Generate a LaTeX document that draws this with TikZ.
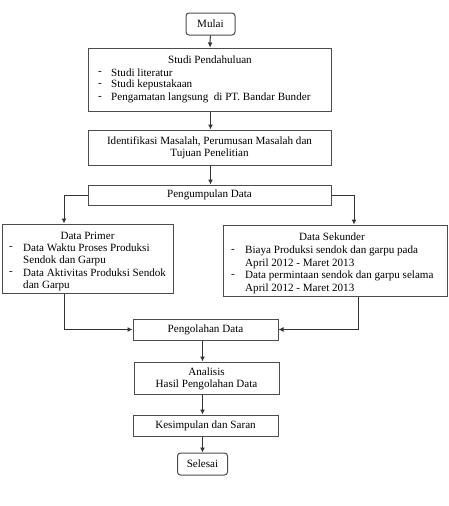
\documentclass[tikz,border=0pt]{standalone}
\usepackage{fontspec}
\setmainfont{Liberation Serif}
\usetikzlibrary{arrows.meta}

\begin{document}
\begin{tikzpicture}[x=1pt, y=-1pt, font=\fontsize{11.1}{13}\selectfont,
  box/.style={draw=black!70, line width=1pt, fill=white, inner sep=0pt},
  term/.style={box, rounded corners=3pt},
  txt/.style={anchor=west, inner sep=0pt},
  ctxt/.style={inner sep=0pt},
  flow/.style={draw=black!80, line width=1pt, -{Latex[length=5pt,width=5pt]}}]
\useasboundingbox (0,0) rectangle (449,506);
% start
\node[term, minimum width=49pt, minimum height=22pt](mulai) at(210.5,24){Mulai};
% studi pendahuluan
\node[box, minimum width=243pt, minimum height=63pt](studi) at(209.5,79.5){};
\node[ctxt](studit) at(210,60){Studi Pendahuluan};
\node[txt](sd1) at(98,72.5){-};
\node[txt](sd2) at(98,85){-};
\node[txt](sd3) at(98,97.5){-};
\node[txt](s1) at(111,72.5){Studi literatur};
\node[txt](s2) at(111,85){Studi kepustakaan};
\node[txt](s3) at(111,97.5){Pengamatan langsung \ di PT. Bandar Bunder};
% identifikasi
\node[box, minimum width=243pt, minimum height=35pt](ident) at(209.5,147.5){};
\node[ctxt](id1) at(209.5,141){Identifikasi Masalah, Perumusan Masalah dan};
\node[ctxt](id2) at(209.5,154){Tujuan Penelitian};
% pengumpulan
\node[box, minimum width=243pt, minimum height=20pt](kumpul) at(209.5,195){Pengumpulan Data};
% data primer
\node[box, minimum width=171pt, minimum height=69pt](primer) at(87.5,258.5){};
\node[ctxt](prt) at(87.5,235.5){Data Primer};
\node[txt](pd1) at(9,248){-};
\node[txt](pd2) at(9,273){-};
\node[txt](p1) at(23,248){Data Waktu Proses Produksi};
\node[txt](p1b) at(23,260.5){Sendok dan Garpu};
\node[txt](p2) at(23,273){Data Aktivitas Produksi Sendok};
\node[txt](p2b) at(23,285.5){dan Garpu};
% data sekunder
\node[box, minimum width=224pt, minimum height=71pt](sekunder) at(335,260.5){};
\node[ctxt](skt) at(332,236.5){Data Sekunder};
\node[txt](kd1) at(231,251){-};
\node[txt](kd2) at(231,276){-};
\node[txt](k1) at(245,251){Biaya Produksi sendok dan garpu pada};
\node[txt](k1b) at(245,263.5){April 2012 - Maret 2013};
\node[txt](k2) at(245,276){Data permintaan sendok dan garpu selama};
\node[txt](k2b) at(245,288.5){April 2012 - Maret 2013};
% pengolahan dan akhir
\node[box, minimum width=145pt, minimum height=21pt](olah) at(205.5,329.5){Pengolahan Data};
\node[box, minimum width=145pt, minimum height=32pt](analisis) at(206.5,378){};
\node[ctxt](an1) at(206.5,372){Analisis};
\node[ctxt](an2) at(206.5,384.5){Hasil Pengolahan Data};
\node[box, minimum width=145pt, minimum height=21pt](simpul) at(205.5,425.5){Kesimpulan dan Saran};
\node[term, minimum width=50pt, minimum height=22pt](selesai) at(202.5,464){Selesai};
% arrows
\draw[flow](mulai)--(studi);
\draw[flow](studi.south -| mulai)--(ident.north -| mulai);
\draw[flow](ident.south -| mulai)--(kumpul.north -| mulai);
\draw[flow](kumpul.west)-|([xshift=-23.5pt]primer.north);
\draw[flow](kumpul.east)-|([xshift=19pt]sekunder.north);
\draw[flow]([xshift=-23.5pt]primer.south)|-(olah.west);
\draw[flow]([xshift=23pt]sekunder.south)|-(olah.east);
\draw[flow](olah.south -| selesai)--(analisis.north -| selesai);
\draw[flow](analisis.south -| selesai)--(simpul.north -| selesai);
\draw[flow](simpul.south -| selesai)--(selesai);
\end{tikzpicture}
\end{document}
